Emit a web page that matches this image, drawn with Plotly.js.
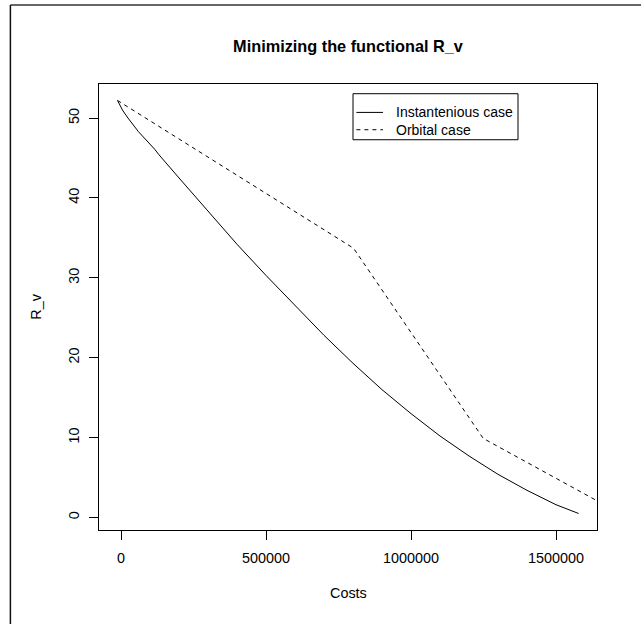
<!DOCTYPE html>
<html>
<head>
<meta charset="utf-8">
<script src="https://cdn.plot.ly/plotly-3.0.1.min.js"></script>
<style>html,body{margin:0;padding:0;background:#fff;}#plot{width:641px;height:624px;}</style>
</head>
<body>
<div id="plot"></div>
<script>
// Instantenious case
var instCosts = [-12000, 5000, 24000, 60000, 116000, 131000, 200000, 300000, 400000, 500000, 600000, 700000, 800000, 900000, 1000000, 1100000, 1200000, 1300000, 1400000, 1500000, 1578000];
var instR =     [52.2, 51.0, 50.0, 48.3, 46.1, 45.4, 42.5, 38.3, 34.2, 30.3, 26.5, 22.8, 19.3, 16.0, 13.0, 10.2, 7.7, 5.4, 3.4, 1.6, 0.5];
// Orbital case
var orbCosts = [-12000, 802000, 1249000, 1633000, 1700000];
var orbR =     [52.2, 33.7, 9.9, 2.27, 0.93];

var seriesNames = ['Instantenious case', 'Orbital case'];

var xTicks = [0, 500000, 1000000, 1500000];
var xTickText = ['0', '500000', '1000000', '1500000'];
var yTicks = [0, 10, 20, 30, 40, 50];
var yTickText = ['0', '10', '20', '30', '40', '50'];

var font = 'Liberation Sans, Arial, Helvetica, sans-serif';
var fs = 14.4;

var traces = [
  {x: instCosts, y: instR, type: 'scatter', mode: 'lines', name: seriesNames[0],
   line: {color: '#000', width: 1}, showlegend: false},
  {x: orbCosts, y: orbR, type: 'scatter', mode: 'lines', name: seriesNames[1],
   line: {color: '#000', width: 1, dash: '4px,4px'}, showlegend: false}
];

var L = 99.3, R = 597.3, T = 84.3, B = 530;
function px2x(p){ return (p - L) / (R - L); }
function px2y(p){ return (B - p) / (B - T); }

// legend geometry (pixels)
var lgL = 353.3, lgR = 518.3, lgT = 94, lgB = 140;
var rowY = [112.7, 130];
var sampleX0 = 356.7, sampleX1 = 383.3, textX = 395.5;

var shapes = [
  {type: 'line', xref: 'paper', yref: 'paper', x0: px2x(10.7), x1: px2x(645), y0: px2y(5.3), y1: px2y(5.3),
   line: {color: '#333', width: 1.5}},
  {type: 'line', xref: 'paper', yref: 'paper', x0: px2x(10.7), x1: px2x(10.7), y0: px2y(5.3), y1: px2y(630),
   line: {color: '#111', width: 1.5}},
  {type: 'rect', xref: 'paper', yref: 'paper', x0: px2x(lgL), x1: px2x(lgR), y0: px2y(lgT), y1: px2y(lgB),
   line: {color: '#000', width: 1}, fillcolor: '#fff'},
  {type: 'line', xref: 'paper', yref: 'paper', x0: px2x(sampleX0), x1: px2x(sampleX1), y0: px2y(rowY[0]), y1: px2y(rowY[0]),
   line: {color: '#000', width: 1}},
  {type: 'line', xref: 'paper', yref: 'paper', x0: px2x(sampleX0), x1: px2x(sampleX1), y0: px2y(rowY[1]), y1: px2y(rowY[1]),
   line: {color: '#000', width: 1, dash: '4px,4px'}}
];

var annotations = [
  {text: 'Costs', xref: 'paper', yref: 'paper', x: 0.5, y: px2y(593), showarrow: false,
   xanchor: 'center', yanchor: 'middle', font: {family: font, size: fs}},
  {text: 'R_v', xref: 'paper', yref: 'paper', x: px2x(36), y: 0.5, showarrow: false, textangle: -90,
   xanchor: 'center', yanchor: 'middle', font: {family: font, size: fs}}
];
seriesNames.forEach(function(n, i){
  annotations.push({text: n, xref: 'paper', yref: 'paper', x: px2x(textX), y: px2y(rowY[i]), showarrow: false,
    xanchor: 'left', yanchor: 'middle', borderpad: 0, font: {family: font, size: 14}});
});

var layout = {
  width: 641, height: 624,
  margin: {l: L, r: 641 - R, t: T, b: 624 - B, pad: 0},
  paper_bgcolor: '#fff', plot_bgcolor: '#fff',
  font: {family: font, size: fs, color: '#000'},
  showlegend: false,
  title: {text: '<b>Minimizing the functional R_v</b>', font: {family: font, size: 16.3, color: '#000'},
          xref: 'paper', x: 0.5, xanchor: 'center', yref: 'container', y: 1 - 46/624, yanchor: 'middle'},
  xaxis: {range: [-75862, 1641379], tickvals: xTicks, ticktext: xTickText, ticks: 'outside', ticklen: 8.6,
          tickwidth: 1, tickcolor: '#000', showgrid: false, zeroline: false, showline: true, mirror: true,
          linecolor: '#000', linewidth: 1, ticklabelstandoff: 6, tickfont: {family: font, size: fs}},
  yaxis: {range: [-1.566, 54.26], tickvals: yTicks, ticktext: yTickText, ticks: 'outside', ticklen: 8.6,
          tickwidth: 1, tickcolor: '#000', showgrid: false, zeroline: false, showline: true, mirror: true,
          linecolor: '#000', linewidth: 1, tickangle: -90, ticklabelstandoff: 5, tickfont: {family: font, size: fs}},
  annotations: annotations,
  shapes: shapes
};

Plotly.newPlot('plot', traces, layout, {displayModeBar: false, staticPlot: true});
</script>
</body>
</html>
